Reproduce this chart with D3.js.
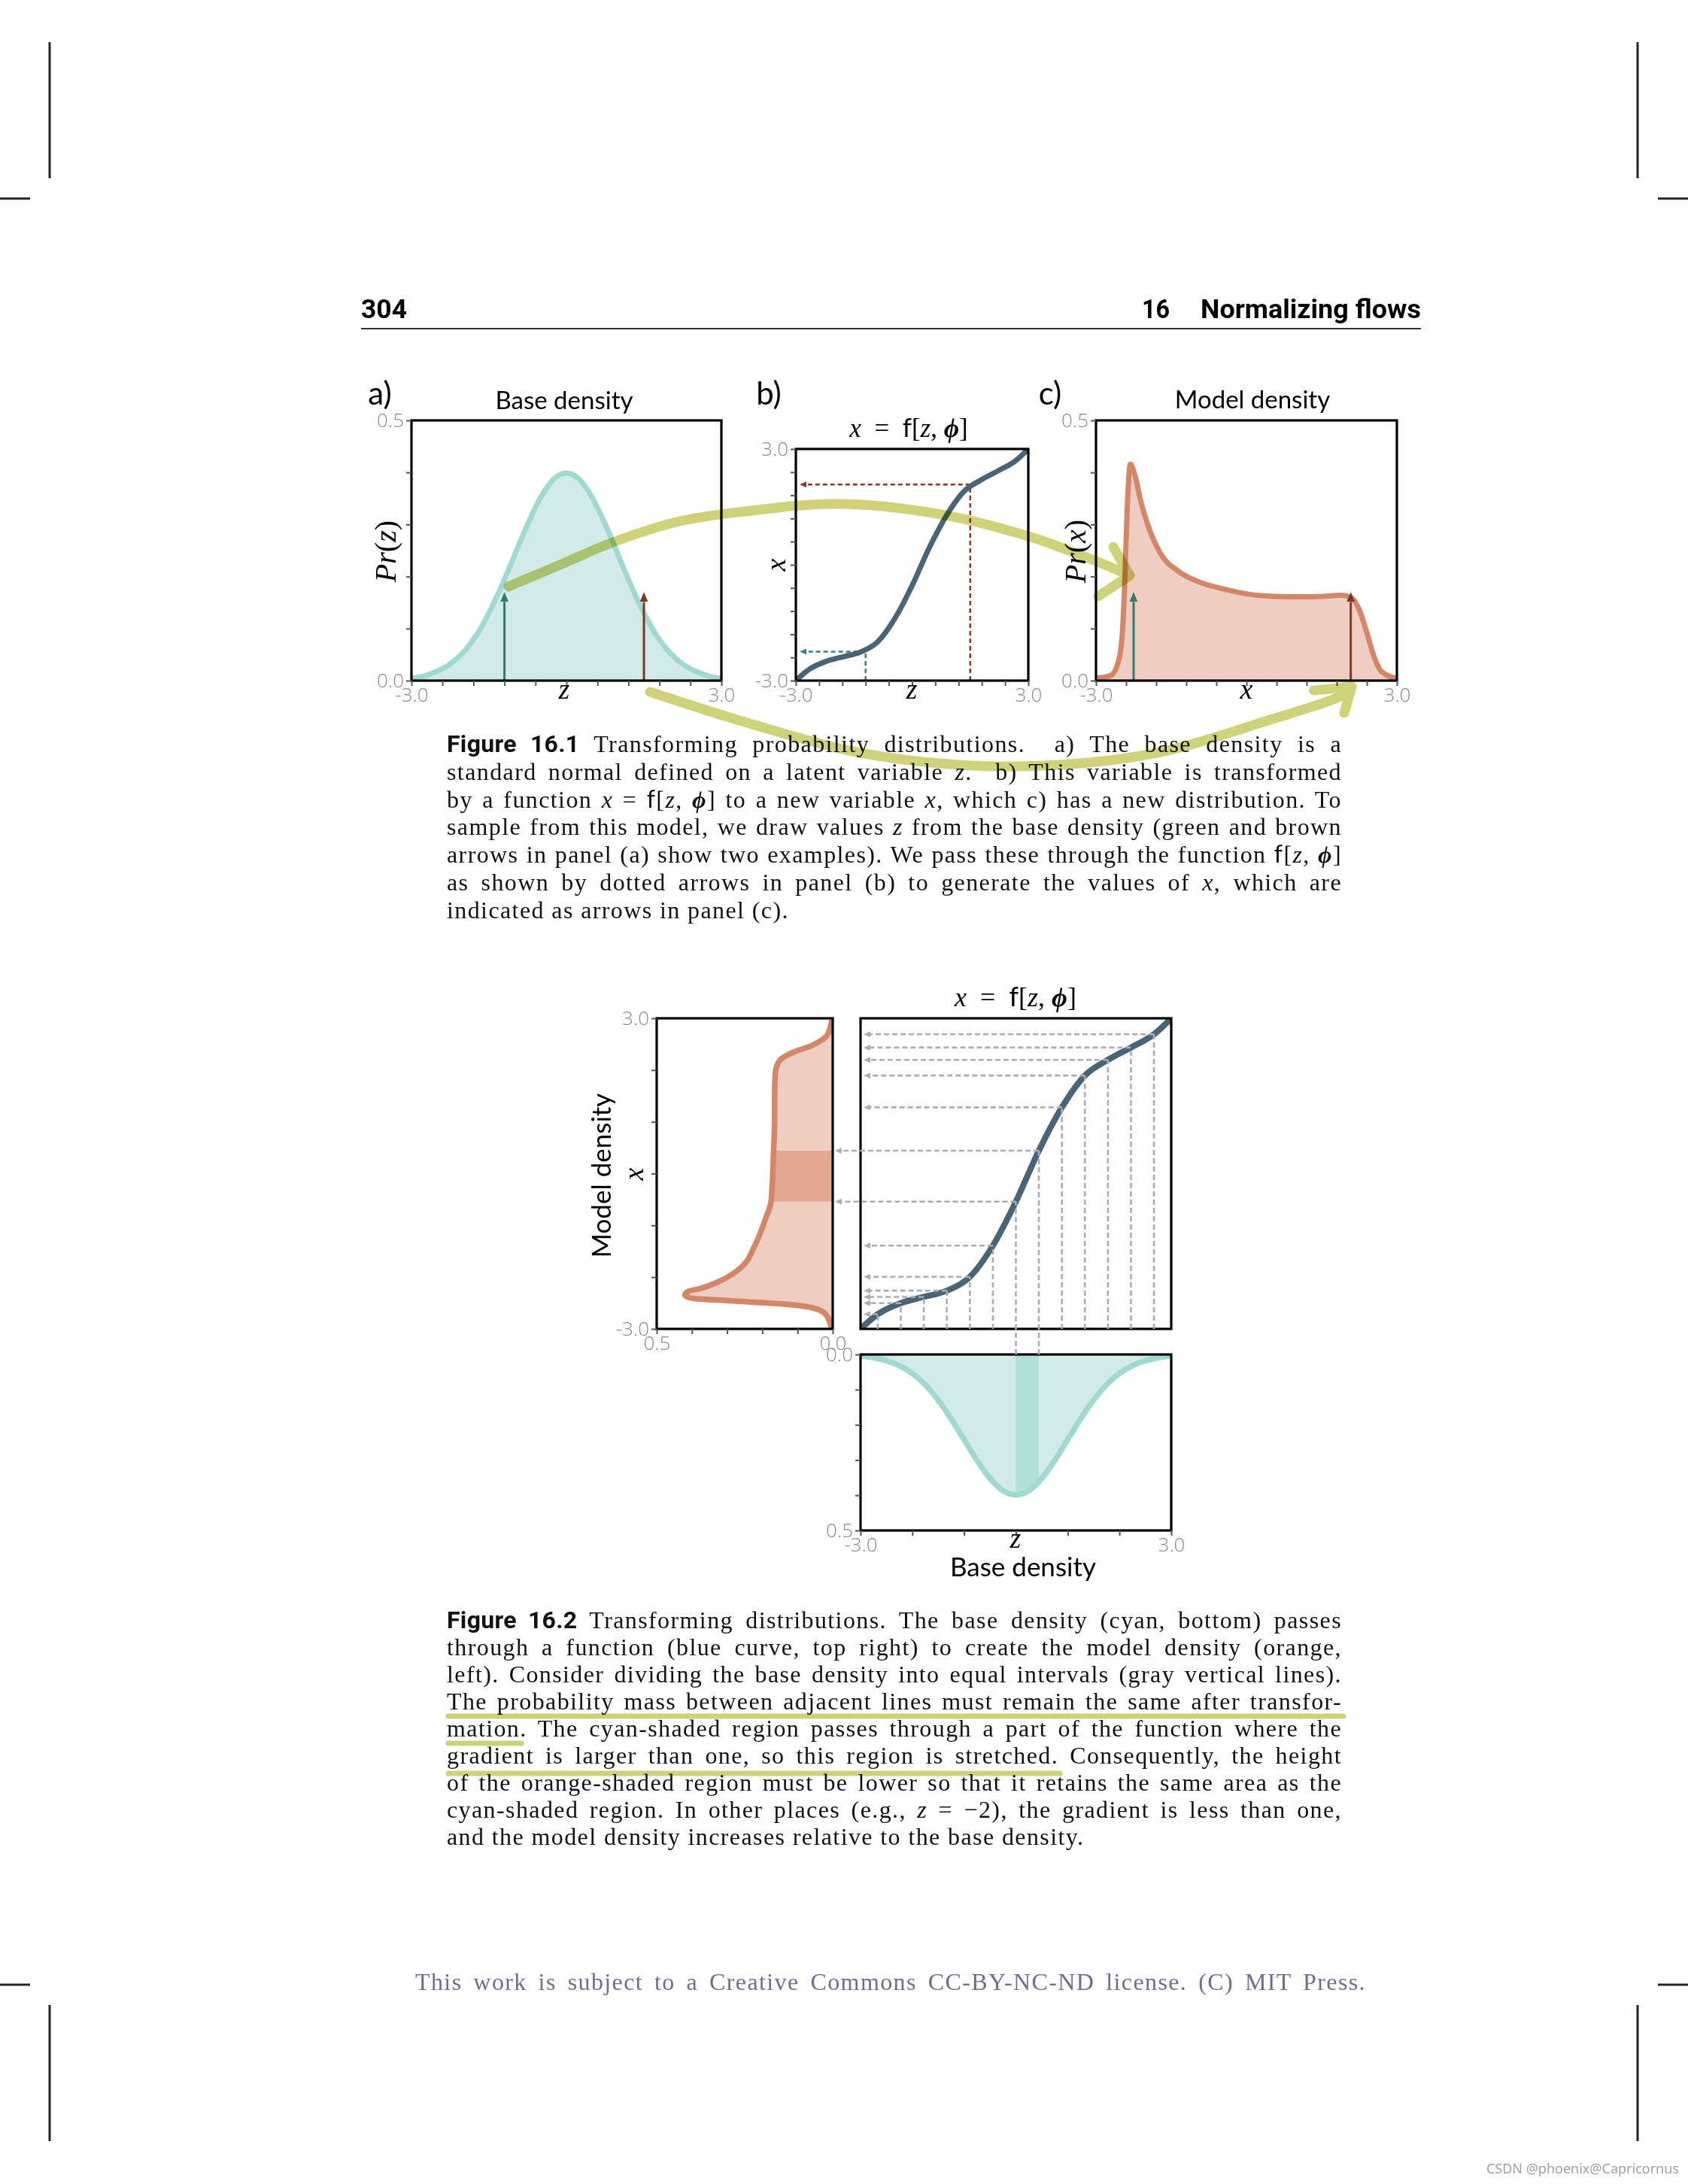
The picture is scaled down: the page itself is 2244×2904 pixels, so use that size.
<!DOCTYPE html>
<html>
<head>
<meta charset="utf-8">
<script src="https://cdn.jsdelivr.net/npm/d3@7"></script>
<style>
  body { margin: 0; background: #fff; }
  svg text { white-space: pre; }
</style>
</head>
<body>
<script>
// ---- данные ----
// базовая плотность (стандартная нормаль)
const baseZ = [-3, -2.75, -2.5, -2.25, -2, -1.75, -1.5, -1.25, -1, -0.75, -0.5, -0.25, 0,
               0.25, 0.5, 0.75, 1, 1.25, 1.5, 1.75, 2, 2.25, 2.5, 2.75, 3];
const baseP = [0.004, 0.009, 0.018, 0.032, 0.054, 0.086, 0.130, 0.183, 0.242, 0.301, 0.352, 0.387, 0.399,
               0.387, 0.352, 0.301, 0.242, 0.183, 0.130, 0.086, 0.054, 0.032, 0.018, 0.009, 0.004];
// функция x = f[z, phi] (узлы = серые пунктирные линии)
const fZ = [-3, -2.667, -2.222, -1.778, -1.333, -0.889, -0.444, 0, 0.444, 0.889, 1.333, 1.778, 2.222, 2.667, 3];
const fX = [-3, -2.715, -2.502, -2.382, -2.261, -1.995, -1.391, -0.541, 0.444, 1.28, 1.894, 2.198, 2.435, 2.691, 3];
// плотность модели, панель c)
const modelX = [-3, -2.705, -2.555, -2.48, -2.43, -2.38, -2.315, -2.23, -2.105, -1.955, -1.705, -1.355, -0.955,
                -0.455, 0.045, 0.545, 1.045, 1.545, 1.895, 2.095, 2.245, 2.395, 2.545, 2.695, 3];
const modelP = [0.005, 0.01, 0.036, 0.084, 0.18, 0.325, 0.416, 0.397, 0.344, 0.296, 0.243, 0.21, 0.19,
                0.176, 0.166, 0.162, 0.161, 0.162, 0.164, 0.159, 0.137, 0.094, 0.046, 0.017, 0.004];
// плотность модели, рисунок 16.2 слева
const leftX = [-3, -2.95, -2.757, -2.636, -2.563, -2.514, -2.456, -2.408, -2.345, -2.273, -2.223, -2.078, -1.836,
               -1.399, -0.913, -0.527, 0.434, 1.026, 1.51, 1.947, 2.19, 2.335, 2.48, 2.674, 3];
const leftP = [0.002, 0.005, 0.0156, 0.037, 0.08, 0.15, 0.293, 0.399, 0.42, 0.41, 0.378, 0.321, 0.264,
               0.222, 0.193, 0.175, 0.168, 0.165, 0.165, 0.163, 0.150, 0.115, 0.058, 0.0156, 0.0015];
// примеры (стрелки)
const sampleZ = [-1.2, 1.5];
const sampleX = [-2.25, 2.08];
const sampleH = 0.17;
const sampleColors = ['#2d7a73', '#7a3826'];
// закрашенная полоса
const shadeZ = [0, 0.444];
const shadeX = [-0.541, 0.444];
// деления осей
const ticks06 = [-3, -2.4, -1.8, -1.2, -0.6, 0, 0.6, 1.2, 1.8, 2.4, 3];
const ticks1 = [-3, -2, -1, 0, 1, 2, 3];
const ticksDens = [0, 0.1, 0.2, 0.3, 0.4, 0.5];
const endsZ = [-3, 3];
const endsDens = [0, 0.5];

// ---- тексты ----
const cap1Lines = [
  "#Figure 16.1# Transforming probability distributions.  a) The base density is a",
  "standard normal defined on a latent variable *z*.  b) This variable is transformed",
  "by a function *x* = {f}[*z*, ^ϕ^] to a new variable *x*, which c) has a new distribution. To",
  "sample from this model, we draw values *z* from the base density (green and brown",
  "arrows in panel (a) show two examples). We pass these through the function {f}[*z*, ^ϕ^]",
  "as shown by dotted arrows in panel (b) to generate the values of *x*, which are",
  "indicated as arrows in panel (c)."
];
const cap2Lines = [
  "#Figure 16.2# Transforming distributions. The base density (cyan, bottom) passes",
  "through a function (blue curve, top right) to create the model density (orange,",
  "left). Consider dividing the base density into equal intervals (gray vertical lines).",
  "The probability mass between adjacent lines must remain the same after transfor-",
  "mation. The cyan-shaded region passes through a part of the function where the",
  "gradient is larger than one, so this region is stretched. Consequently, the height",
  "of the orange-shaded region must be lower so that it retains the same area as the",
  "cyan-shaded region. In other places (e.g., *z* = −2), the gradient is less than one,",
  "and the model density increases relative to the base density."
];
const footerText = 'This work is subject to a Creative Commons CC-BY-NC-ND license. (C) MIT Press.';
// подчёркивания: [строка, число символов (-1 = вся строка), смещение вниз]
const underlines = [[3, -1, 9], [4, 6, 9], [5, 57, 13]];

const SERIF = '"Liberation Serif", "DejaVu Serif", serif';
const SANS = 'Lato, "Open Sans", sans-serif';
const TICKF = '"Open Sans", "Noto Sans", sans-serif';
const BOLDF = 'Roboto, "Noto Sans", sans-serif';
const HILITE = '#cfd27b';
const CAP_SIZE = 32, CAP_SPACING = 1.4;

const svg = d3.select('body').append('svg')
  .attr('width', 2244).attr('height', 2904)
  .style('background', '#fff');
const defs = svg.append('defs');

// наконечники стрелок: основание в конце линии, остриё дальше на len
function marker(id, color, len, wid) {
  defs.append('marker').attr('id', id)
    .attr('viewBox', `0 ${-wid / 2} ${len} ${wid}`)
    .attr('refX', 0).attr('refY', 0)
    .attr('markerWidth', len).attr('markerHeight', wid)
    .attr('markerUnits', 'userSpaceOnUse').attr('orient', 'auto')
    .append('path').attr('d', `M0,${-wid / 2}L${len},0L0,${wid / 2}Z`).attr('fill', color);
}
marker('headS0', sampleColors[0], 13, 11);
marker('headS1', sampleColors[1], 13, 11);
marker('headD0', '#2f857b', 9, 8);
marker('headD1', '#8a3b28', 9, 8);
marker('headGray', '#a8aeb3', 9, 8);

// разбор строки с разметкой: *курсив*, {sans}, ^жирный курсив^, #жирный sans#
function rich(g, str, x, y, size, opts) {
  opts = opts || {};
  const t = g.append('text').attr('x', x).attr('y', y)
    .style('font-family', opts.family || SERIF).style('font-size', size + 'px')
    .attr('fill', opts.fill || '#111');
  if (opts.anchor) t.attr('text-anchor', opts.anchor);
  if (opts.spacing) t.style('letter-spacing', opts.spacing + 'px');
  str.split(/(\*[^*]+\*|\{[^}]+\}|\^[^^]+\^|#[^#]+#)/).forEach(s => {
    if (!s) return;
    const sp = t.append('tspan');
    const k = s[0];
    if (k === '*' || k === '{' || k === '^' || k === '#') sp.text(s.slice(1, -1)); else sp.text(s);
    if (k === '*') sp.style('font-style', 'italic').style('font-family', SERIF);
    if (k === '{') sp.style('font-family', SANS);
    if (k === '^') sp.style('font-style', 'italic').style('font-weight', 700).style('font-family', SERIF);
    if (k === '#') sp.style('font-family', BOLDF).style('font-weight', 700).style('letter-spacing', '0.3px');
  });
  if (opts.rotate) t.attr('transform', `rotate(-90 ${x} ${y})`);
  return t;
}
// выключка по ширине через межсловные пробелы
function justify(t, width) {
  const natural = t.node().getComputedTextLength();
  const spaces = (t.text().match(/ /g) || []).length;
  if (spaces && natural < width) t.style('word-spacing', ((width - natural) / spaces) + 'px');
}

// панель с собственными шкалами
function makePanel(id, left, top, w, h, xDom, yDom) {
  const x = d3.scaleLinear().domain(xDom).range([left, left + w]);
  const y = d3.scaleLinear().domain(yDom).range([top + h, top]);
  defs.append('clipPath').attr('id', 'clip-' + id)
    .append('rect').attr('x', left).attr('y', top).attr('width', w).attr('height', h);
  const g = svg.append('g');
  const plot = g.append('g').attr('clip-path', `url(#clip-${id})`);
  return { id, x, y, g, plot, left, top, w, h };
}
function frame(p) {
  p.g.append('rect').attr('x', p.left).attr('y', p.top).attr('width', p.w).attr('height', p.h)
    .attr('fill', 'none').attr('stroke', '#000').attr('stroke-width', 3.2);
}
function axis(p, side, ticks, labelled) {
  const scale = side === 'bottom' ? p.x : p.y;
  const ax = (side === 'bottom' ? d3.axisBottom(scale) : d3.axisLeft(scale))
    .tickValues(ticks).tickSize(7).tickPadding(3)
    .tickFormat(d => labelled.some(l => Math.abs(l - d) < 1e-9) ? d.toFixed(1) : '');
  const ag = p.g.append('g')
    .attr('transform', side === 'bottom' ? `translate(0,${p.top + p.h})` : `translate(${p.left},0)`)
    .call(ax);
  ag.select('.domain').remove();
  ag.selectAll('line').attr('stroke', '#555').attr('stroke-width', 2);
  ag.selectAll('text').attr('fill', '#8a8a8a')
    .style('font-family', TICKF).style('font-weight', 300).style('font-size', '26px');
}
function sans(g, str, x, y, size, rotate) {
  const t = g.append('text').attr('x', x).attr('y', y).attr('text-anchor', 'middle')
    .style('font-family', SANS).style('font-size', size + 'px').attr('fill', '#000').text(str);
  if (rotate) t.attr('transform', `rotate(-90 ${x} ${y})`);
  return t;
}

// ---- метки печати и колонтитул ----
const crop = svg.append('g').attr('stroke', '#222').attr('stroke-width', 3);
[[66, 56, 66, 237], [2177, 56, 2177, 237], [0, 264, 40, 264], [2204, 264, 2244, 264],
 [0, 2639, 40, 2639], [2204, 2639, 2244, 2639], [66, 2666, 66, 2847], [2177, 2666, 2177, 2847]]
  .forEach(l => crop.append('line').attr('x1', l[0]).attr('y1', l[1]).attr('x2', l[2]).attr('y2', l[3]));

svg.append('text').attr('x', 480).attr('y', 423).text('304')
  .style('font-family', BOLDF).style('font-weight', 700).style('font-size', '35px')
  .attr('textLength', 61).attr('lengthAdjust', 'spacingAndGlyphs');
svg.append('text').attr('x', 1518).attr('y', 423).text('16')
  .style('font-family', BOLDF).style('font-weight', 700).style('font-size', '35px')
  .attr('textLength', 37).attr('lengthAdjust', 'spacingAndGlyphs');
svg.append('text').attr('x', 1596).attr('y', 423).text('Normalizing flows')
  .style('font-family', BOLDF).style('font-weight', 700).style('font-size', '35px')
  .attr('textLength', 293).attr('lengthAdjust', 'spacingAndGlyphs');
svg.append('line').attr('x1', 480).attr('x2', 1889).attr('y1', 437).attr('y2', 437)
  .attr('stroke', '#333').attr('stroke-width', 2);

// ---- рисунок 16.1 ----
const A = makePanel('a', 547, 559, 412, 346, [-3, 3], [0, 0.5]);
const Bp = makePanel('b', 1058, 597, 309, 308, [-3, 3], [-3, 3]);
const C = makePanel('c', 1457, 559, 400, 346, [-3, 3], [0, 0.5]);

const baseData = d3.zip(baseZ, baseP);
const fData = d3.zip(fZ, fX);
const modelData = d3.zip(modelX, modelP);
const leftData = d3.zip(leftX, leftP);

function horizDensity(p, data, fill, stroke) {
  p.plot.append('path').datum(data)
    .attr('d', d3.area().x(d => p.x(d[0])).y0(p.y(0)).y1(d => p.y(d[1])).curve(d3.curveMonotoneX))
    .attr('fill', fill);
  return p.plot.append('path').datum(data)
    .attr('d', d3.line().x(d => p.x(d[0])).y(d => p.y(d[1])).curve(d3.curveMonotoneX))
    .attr('fill', 'none').attr('stroke', stroke).attr('stroke-width', 7).attr('stroke-linejoin', 'round');
}

// a) базовая плотность
horizDensity(A, baseData, '#d1ebe8', '#a0d8d2');
sampleZ.forEach((z, i) => {
  A.plot.append('line').attr('x1', A.x(z)).attr('x2', A.x(z))
    .attr('y1', A.y(0)).attr('y2', A.y(sampleH) + 13)
    .attr('stroke', sampleColors[i]).attr('stroke-width', 3).attr('marker-end', `url(#headS${i})`);
});
frame(A);
axis(A, 'bottom', ticks06, endsZ);
axis(A, 'left', ticksDens, endsDens);
sans(A.g, 'Base density', 750, 544, 33);
sans(A.g, 'a)', 505, 538, 42);
rich(A.g, '*Pr*(*z*)', 526, 733, 40, { anchor: 'middle', rotate: true, fill: '#000' });
rich(A.g, '*z*', 750, 929, 38, { anchor: 'middle', fill: '#000' });

// b) функция
sampleZ.forEach((z, i) => {
  const g = Bp.plot.append('g').attr('stroke', i ? '#8a3b28' : '#2f857b')
    .attr('stroke-width', 2.5).attr('stroke-dasharray', '6,4').attr('fill', 'none');
  g.append('line').attr('x1', Bp.x(z)).attr('x2', Bp.x(z)).attr('y1', Bp.y(-3)).attr('y2', Bp.y(sampleX[i]));
  g.append('line').attr('x1', Bp.x(z)).attr('x2', Bp.x(-3) + 5 + 9)
    .attr('y1', Bp.y(sampleX[i])).attr('y2', Bp.y(sampleX[i]))
    .attr('marker-end', `url(#headD${i})`);
});
Bp.plot.append('path').datum(fData)
  .attr('d', d3.line().x(d => Bp.x(d[0])).y(d => Bp.y(d[1])).curve(d3.curveMonotoneX))
  .attr('fill', 'none').attr('stroke', '#486476').attr('stroke-width', 7).attr('stroke-linecap', 'round');
frame(Bp);
axis(Bp, 'bottom', ticks06, endsZ);
axis(Bp, 'left', ticks06, endsZ);
rich(Bp.g, '*x*  =  {f}[*z*, ^ϕ^]', 1208, 581, 35, { anchor: 'middle', fill: '#000' });
sans(Bp.g, 'b)', 1022, 538, 42);
rich(Bp.g, '*x*', 1044, 751, 38, { anchor: 'middle', rotate: true, fill: '#000' });
rich(Bp.g, '*z*', 1212, 929, 38, { anchor: 'middle', fill: '#000' });

// c) плотность модели
horizDensity(C, modelData, '#efcec1', '#d48768');
sampleX.forEach((x, i) => {
  C.plot.append('line').attr('x1', C.x(x)).attr('x2', C.x(x))
    .attr('y1', C.y(0)).attr('y2', C.y(sampleH) + 13)
    .attr('stroke', sampleColors[i]).attr('stroke-width', 3).attr('marker-end', `url(#headS${i})`);
});
frame(C);
axis(C, 'bottom', ticks06, endsZ);
axis(C, 'left', ticksDens, endsDens);
sans(C.g, 'Model density', 1665, 543, 33);
sans(C.g, 'c)', 1396, 538, 42);
rich(C.g, '*Pr*(*x*)', 1443, 733, 40, { anchor: 'middle', rotate: true, fill: '#000' });
rich(C.g, '*x*', 1657, 929, 38, { anchor: 'middle', fill: '#000' });

// ---- подписи к рисункам ----
function caption(lines, x0, y0, step, width) {
  const g = svg.append('g');
  return lines.map((s, i) => {
    const t = rich(g, s, x0, y0 + i * step, CAP_SIZE, { spacing: CAP_SPACING });
    if (i < lines.length - 1) justify(t, width);
    return t;
  });
}
caption(cap1Lines, 594, 1000, 36.8, 1190);
const cap2 = caption(cap2Lines, 594, 2165, 36, 1190);

// ---- рисунок 16.2 ----
const L = makePanel('l', 873, 1354, 234, 413, [0.5, 0], [-3, 3]);
const R = makePanel('r', 1144, 1354, 413, 413, [-3, 3], [-3, 3]);
const B = makePanel('bot', 1144, 1801, 413, 234, [-3, 3], [0.5, 0]);

// слева: плотность модели по вертикали
defs.append('clipPath').attr('id', 'band-l').append('rect')
  .attr('x', L.left).attr('width', L.w)
  .attr('y', L.y(shadeX[1])).attr('height', L.y(shadeX[0]) - L.y(shadeX[1]));
const areaL = d3.area().y(d => L.y(d[0])).x0(L.x(0)).x1(d => L.x(d[1])).curve(d3.curveMonotoneY);
L.plot.append('path').datum(leftData).attr('d', areaL).attr('fill', '#efcec1');
L.plot.append('path').datum(leftData).attr('d', areaL).attr('fill', '#e2a892').attr('clip-path', 'url(#band-l)');
L.plot.append('path').datum(leftData)
  .attr('d', d3.line().y(d => L.y(d[0])).x(d => L.x(d[1])).curve(d3.curveMonotoneY))
  .attr('fill', 'none').attr('stroke', '#d48768').attr('stroke-width', 7.5).attr('stroke-linejoin', 'round');
frame(L);
axis(L, 'bottom', ticksDens, endsDens);
axis(L, 'left', ticks1, endsZ);
sans(L.g, 'Model density', 812, 1563, 35, true);
rich(L.g, '*x*', 855, 1561, 38, { anchor: 'middle', rotate: true, fill: '#000' });

// снизу: базовая плотность вниз
defs.append('clipPath').attr('id', 'band-b').append('rect')
  .attr('y', B.top).attr('height', B.h)
  .attr('x', B.x(shadeZ[0])).attr('width', B.x(shadeZ[1]) - B.x(shadeZ[0]));
const areaB = d3.area().x(d => B.x(d[0])).y0(B.y(0)).y1(d => B.y(d[1])).curve(d3.curveMonotoneX);
B.plot.append('path').datum(baseData).attr('d', areaB).attr('fill', '#d1ebe8');
B.plot.append('path').datum(baseData).attr('d', areaB).attr('fill', '#b1e0da').attr('clip-path', 'url(#band-b)');
B.plot.append('path').datum(baseData)
  .attr('d', d3.line().x(d => B.x(d[0])).y(d => B.y(d[1])).curve(d3.curveMonotoneX))
  .attr('fill', 'none').attr('stroke', '#a0d8d2').attr('stroke-width', 7.5);
frame(B);
axis(B, 'bottom', ticks1, endsZ);
axis(B, 'left', ticksDens, endsDens);
rich(B.g, '*z*', 1350, 2058, 38, { anchor: 'middle', fill: '#000' });
sans(B.g, 'Base density', 1360, 2096, 35);

// справа: функция и серые пунктиры
const dash = svg.append('g').attr('stroke', '#a8aeb3').attr('stroke-width', 2.6)
  .attr('stroke-dasharray', '7,4').attr('fill', 'none');
fZ.forEach((z, i) => {
  if (i === 0 || i === fZ.length - 1) return;
  const inBand = shadeZ.some(s => Math.abs(s - z) < 1e-6);
  const px = R.x(z), py = R.y(fX[i]);
  dash.append('line').attr('x1', px).attr('x2', px)
    .attr('y1', inBand ? B.y(0) : R.y(-3)).attr('y2', py);
  dash.append('line').attr('x1', px).attr('y1', py).attr('y2', py)
    .attr('x2', (inBand ? L.x(0) + 3 : R.x(-3) + 4) + 9)
    .attr('marker-end', 'url(#headGray)');
});
R.plot.append('path').datum(fData)
  .attr('d', d3.line().x(d => R.x(d[0])).y(d => R.y(d[1])).curve(d3.curveMonotoneX))
  .attr('fill', 'none').attr('stroke', '#486476').attr('stroke-width', 8);
frame(R);
rich(R.g, '*x*  =  {f}[*z*, ^ϕ^]', 1350, 1338, 36, { anchor: 'middle', fill: '#000' });

// ---- подвал ----
const foot = svg.append('text').attr('x', 552).attr('y', 2646)
  .style('font-family', SERIF).style('font-size', CAP_SIZE + 'px').style('letter-spacing', CAP_SPACING + 'px')
  .attr('fill', '#6e6e8f').text(footerText);
justify(foot, 1264);
svg.append('text').attr('x', 2232).attr('y', 2890).attr('text-anchor', 'end')
  .style('font-family', '"Noto Sans", sans-serif').style('font-size', '18px').attr('fill', '#a0a0a0')
  .text('CSDN @phoenix@Capricornus');

// ---- жёлто-зелёные пометки от руки ----
const P = { A, Bp, C };
const pt = d => [P[d[0]].x(d[1]), P[d[0]].y(d[2])];
const annoUpper = [['A', -1.12, 0.181], ['A', -0.092, 0.224], ['A', 0.93, 0.267], ['A', 2.184, 0.306],
  ['A', 3.45, 0.325], ['Bp', -1.93, 1.58], ['Bp', 0.67, 1.32], ['Bp', 3.0, 0.74],
  ['C', -3.705, 0.256], ['C', -2.955, 0.228], ['C', -2.325, 0.202]];
const annoUpperHead = [['C', -2.655, 0.257], ['C', -2.325, 0.202], ['C', -2.955, 0.162]];
const annoLower = [['A', 1.617, -0.0217], ['A', 3.45, -0.0795], ['Bp', -1.447, -4.85], ['Bp', 1.175, -5.18],
  ['C', -3.735, -0.162], ['C', -1.695, -0.137], ['C', 0.33, -0.0795], ['C', 1.95, -0.026], ['C', 2.1, -0.0116]];
const annoLowerHead = [['C', 1.344, -0.0188], ['C', 2.1, -0.0116], ['C', 1.95, -0.0621]];

const hl = svg.append('g').style('mix-blend-mode', 'multiply')
  .attr('fill', 'none').attr('stroke', HILITE).attr('stroke-linecap', 'round').attr('stroke-linejoin', 'round');
const smooth = d3.line().curve(d3.curveCatmullRom.alpha(0.5));
[annoUpper, annoLower].forEach(a => hl.append('path').attr('d', smooth(a.map(pt))).attr('stroke-width', 13));
[annoUpperHead, annoLowerHead].forEach(a => hl.append('path').attr('d', d3.line()(a.map(pt))).attr('stroke-width', 13));

// подчёркивания в подписи 16.2
underlines.forEach(u => {
  const t = cap2[u[0]].node();
  const x0 = +t.getAttribute('x'), y = +t.getAttribute('y') + u[2];
  let x1 = x0 + 1190;
  if (u[1] > 0) {
    try { x1 = t.getEndPositionOfChar(u[1] - 1).x; } catch (e) { x1 = x0 + t.getSubStringLength(0, u[1]); }
  }
  hl.append('line').attr('x1', x0 + 2).attr('x2', x1 + 2).attr('y1', y).attr('y2', y).attr('stroke-width', 7);
});
</script>
</body>
</html>
